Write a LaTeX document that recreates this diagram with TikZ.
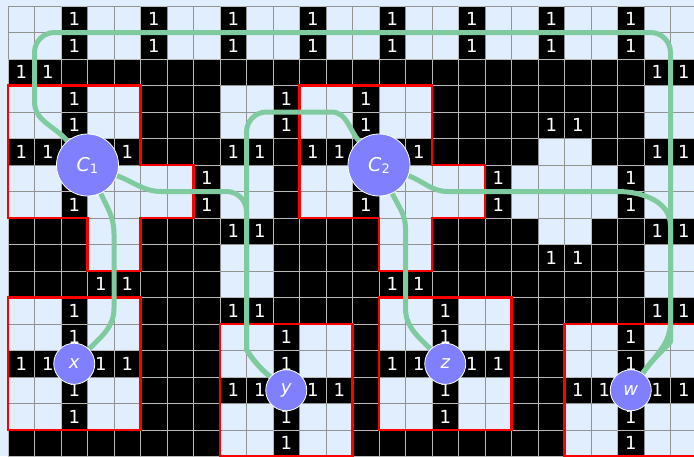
\documentclass[tikz,border=0pt]{standalone}
\usepackage{fontspec}
\setmainfont{DejaVu Sans}
\definecolor{cellbg}{RGB}{225,238,253}
\definecolor{wirec}{RGB}{128,202,160}
\definecolor{nodec}{RGB}{128,128,255}
\pgfdeclarelayer{cells}
\pgfdeclarelayer{wires}
\pgfsetlayers{cells,wires,main}
\tikzset{
  cellL/.style={draw=gray!85, line width=0.7pt, fill=cellbg, minimum size=26.5pt, inner sep=0pt, outer sep=0pt},
  cellB/.style={cellL, fill=black, draw=gray!55},
  cellO/.style={cellB, text=white, font=\fontsize{18}{18}\selectfont},
  gadget/.style={draw=red, line width=2.8pt, line join=miter},
  wire/.style={draw=wirec, line width=5pt},
  bigv/.style={circle, fill=nodec, draw=white, line width=0.8pt, minimum size=62pt, inner sep=0pt, text=white, font=\fontsize{19}{19}\selectfont},
  smallv/.style={bigv, minimum size=41pt, font=\fontsize{18}{18}\selectfont\itshape},
}
\begin{document}
\begin{tikzpicture}[x=26.5pt,y=-26.5pt]
\useasboundingbox (-0.30189,-0.22642) rectangle (25.8868,16.9811);
\clip (-0.30189,-0.22642) rectangle (25.8868,16.9811);
\begin{pgfonlayer}{cells}
\fill[cellbg] (-0.30189,-0.22642) rectangle (25.8868,16.9811);
\foreach \row [count=\r from 0] in {
 {0,0,1,0,0,1,0,0,1,0,0,1,0,0,1,0,0,1,0,0,1,0,0,1,0,0},
 {0,0,1,0,0,1,0,0,1,0,0,1,0,0,1,0,0,1,0,0,1,0,0,1,0,0},
 {1,1,2,2,2,2,2,2,2,2,2,2,2,2,2,2,2,2,2,2,2,2,2,2,1,1},
 {0,0,1,0,0,2,2,2,0,0,1,0,0,1,0,0,2,2,2,2,2,2,2,2,0,0},
 {0,0,1,0,0,2,2,2,0,0,1,0,0,1,0,0,2,2,2,2,1,1,2,2,0,0},
 {1,1,2,2,1,2,2,2,1,1,2,1,1,2,2,1,2,2,2,2,0,0,2,2,1,1},
 {0,0,2,0,0,0,0,1,0,0,2,0,0,2,0,0,0,0,1,0,0,0,0,1,0,0},
 {0,0,1,0,0,0,0,1,0,0,2,0,0,1,0,0,0,0,1,0,0,0,0,1,0,0},
 {2,2,2,0,0,2,2,2,1,1,2,2,2,2,0,0,2,2,2,2,0,0,2,2,1,1},
 {2,2,2,0,0,2,2,2,0,0,2,2,2,2,0,0,2,2,2,2,1,1,2,2,0,0},
 {2,2,2,1,1,2,2,2,0,0,2,2,2,2,1,1,2,2,2,2,2,2,2,2,0,0},
 {0,0,1,0,0,2,2,2,1,1,2,2,2,2,0,0,1,0,0,2,2,2,2,2,1,1},
 {0,0,1,0,0,2,2,2,0,0,1,0,0,2,0,0,1,0,0,2,2,0,0,1,0,0},
 {1,1,2,1,1,2,2,2,0,0,1,0,0,2,1,1,2,1,1,2,2,0,0,1,0,0},
 {0,0,1,0,0,2,2,2,1,1,2,1,1,2,0,0,1,0,0,2,2,1,1,2,1,1},
 {0,0,1,0,0,2,2,2,0,0,1,0,0,2,0,0,1,0,0,2,2,0,0,1,0,0},
 {2,2,2,2,2,2,2,2,0,0,1,0,0,2,2,2,2,2,2,2,2,0,0,1,0,0}}{
  \foreach \v [count=\c from 0] in \row {
    \ifcase\v
      \node[cellL] (g-\r-\c) at (\c+0.5,\r+0.5) {};
    \or
      \node[cellO] (g-\r-\c) at (\c+0.5,\r+0.5) {1};
    \or
      \node[cellB] (g-\r-\c) at (\c+0.5,\r+0.5) {};
    \fi
  }
}
% gadget outlines
\draw[gadget] (0,3) -- (5,3) -- (5,6) -- (7,6) -- (7,8) -- (5,8) -- (5,10) -- (3,10) -- (3,8) -- (0,8) -- cycle;
\draw[gadget] (11,3) -- (16,3) -- (16,6) -- (18,6) -- (18,8) -- (16,8) -- (16,10) -- (14,10) -- (14,8) -- (11,8) -- cycle;
\draw[gadget] (0,11) rectangle (5,16);
\draw[gadget] (8,12) rectangle (13,17);
\draw[gadget] (14,11) rectangle (19,16);
\draw[gadget] (21,12) rectangle (26,17);
\end{pgfonlayer}
% vertices
\node[bigv] (C1) at (3,6) {{\itshape C}\raisebox{-2pt}{\fontsize{13}{13}\selectfont 1}};
\node[bigv] (C2) at (14,6) {{\itshape C}\raisebox{-2pt}{\fontsize{13}{13}\selectfont 2}};
\node[smallv] (x) at (2.5,13.5) {x};
\node[smallv] (y) at (10.5,14.5) {y};
\node[smallv] (z) at (16.5,13.5) {z};
\node[smallv] (w) at (23.5,14.5) {w};
\coordinate (ctop) at (1,3.6);
\begin{pgfonlayer}{wires}
\draw[wire] (C1) to[out=130,in=-90] (ctop) [rounded corners=20pt] -- (1,1) -- (25,1) -- (25,11.9) [sharp corners] to[out=-90,in=55] (w);
\draw[wire] (C1) to[out=-65,in=90] (4,8.6) -- (4,11.4) to[out=-90,in=45] (x);
\draw[wire] (C1) to[out=-20,in=180] (5.8,7) [rounded corners=20pt] -- (9,7) -- (9,12.2) [sharp corners] to[out=-90,in=140] (y);
\draw[wire] (C2) to[out=130,in=0] (12.2,4) [rounded corners=20pt] -- (9,4) -- (9,12.2) [sharp corners] to[out=-90,in=140] (y);
\draw[wire] (C2) to[out=-65,in=90] (15,8.4) -- (15,11.4) to[out=-90,in=135] (z);
\draw[wire] (C2) to[out=-20,in=180] (16.6,7) -- (23,7) to[out=0,in=90] (25,8.3) -- (25,11.9) to[out=-90,in=55] (w);
\end{pgfonlayer}
\end{tikzpicture}
\end{document}
